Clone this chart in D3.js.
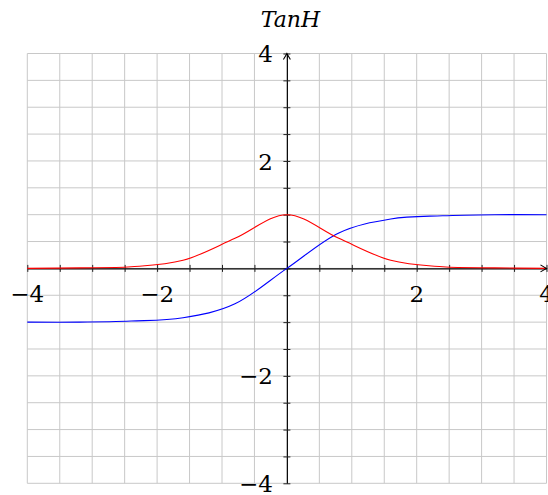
<!DOCTYPE html>
<html>
<head>
<meta charset="utf-8">
<script src="https://cdn.jsdelivr.net/npm/d3@7"></script>
<style>
  html, body { margin: 0; padding: 0; background: #fff; }
  svg { display: block; }
  .lbl { font-family: "DejaVu Serif", serif; font-size: 23px; fill: #000; }
  .title { font-family: "DejaVu Serif", serif; font-style: italic; font-size: 22px; fill: #000; }
</style>
</head>
<body>
<svg id="chart" width="548" height="495"></svg>
<script>
// Sample points of tanh(x) and its derivative 1 - tanh(x)^2
const xs      = [-4, -3.2, -2.4, -1.6, -0.8, 0, 0.8, 1.6, 2.4, 3.2, 4];
const tanhY   = [-1.00, -1.00, -0.98, -0.92, -0.66, 0, 0.66, 0.92, 0.98, 1.00, 1.00];
const derivY  = [0.00, 0.01, 0.03, 0.15, 0.56, 1.00, 0.56, 0.15, 0.03, 0.01, 0.00];
const xTickLabels = [-4, -2, 2, 4];
const yTickLabels = [-4, -2, 2, 4];
const gridStep = 0.5;

const svg = d3.select("#chart");
const x = d3.scaleLinear().domain([-4, 4]).range([27.3, 546.5]);
const y = d3.scaleLinear().domain([-4, 4]).range([483.3, 53.5]);

const gridVals = d3.range(-4, 4 + 1e-9, gridStep);

// grid
const grid = svg.append("g").attr("stroke", "#c8c8c8").attr("stroke-width", 1);
grid.selectAll("line.v").data(gridVals).join("line")
  .attr("x1", d => x(d)).attr("x2", d => x(d))
  .attr("y1", y(4)).attr("y2", y(-4));
grid.selectAll("line.h").data(gridVals).join("line")
  .attr("y1", d => y(d)).attr("y2", d => y(d))
  .attr("x1", x(-4)).attr("x2", x(4));

// axes through the origin
const axisX = d3.axisBottom(x).tickValues(gridVals).tickSize(0).tickFormat("");
const axisY = d3.axisLeft(y).tickValues(gridVals).tickSize(0).tickFormat("");
const gx = svg.append("g").attr("transform", `translate(0,${y(0)})`).call(axisX);
const gy = svg.append("g").attr("transform", `translate(${x(0)},0)`).call(axisY);
[gx, gy].forEach(g => { g.select(".domain").attr("stroke", "#000").attr("stroke-width", 1.1); });
gx.selectAll(".tick line").attr("y1", -3.5).attr("y2", 3.5).attr("stroke", "#222");
gy.selectAll(".tick line").attr("x1", -3.5).attr("x2", 3.5).attr("stroke", "#222");

// tick labels
const fmt = v => (v < 0 ? "\u2212" : "") + Math.abs(v);
svg.append("g").selectAll("text").data(xTickLabels).join("text")
  .attr("class", "lbl")
  .attr("x", d => x(d)).attr("y", y(0) + 34)
  .attr("text-anchor", "middle")
  .text(fmt);
svg.append("g").selectAll("text").data(yTickLabels).join("text")
  .attr("class", "lbl")
  .attr("x", x(0) - 14).attr("y", d => y(d) + 8.6)
  .attr("text-anchor", "end")
  .text(fmt);

// curves
const line = (ys) => d3.line()
  .x((d, i) => x(xs[i]))
  .y((d, i) => y(ys[i]))
  .curve(d3.curveCatmullRom.alpha(0))(ys);

svg.append("path").attr("d", line(tanhY))
  .attr("fill", "none").attr("stroke", "#0000ff").attr("stroke-width", 1.1);
svg.append("path").attr("d", line(derivY))
  .attr("fill", "none").attr("stroke", "#ff0000").attr("stroke-width", 1.1);

// arrow heads at the positive ends of the axes
const head = "M-6,-3.5 Q-2,-1 0,0 Q-2,1 -6,3.5";
svg.append("path").attr("d", head)
  .attr("transform", `translate(${x(4)},${y(0)})`)
  .attr("fill", "none").attr("stroke", "#000").attr("stroke-width", 1.1);
svg.append("path").attr("d", head)
  .attr("transform", `translate(${x(0)},${y(4)}) rotate(-90)`)
  .attr("fill", "none").attr("stroke", "#000").attr("stroke-width", 1.1);

// title
svg.append("text").attr("class", "title")
  .attr("x", 290.5).attr("y", 27)
  .attr("text-anchor", "middle")
  .text("TanH");
</script>
</body>
</html>
